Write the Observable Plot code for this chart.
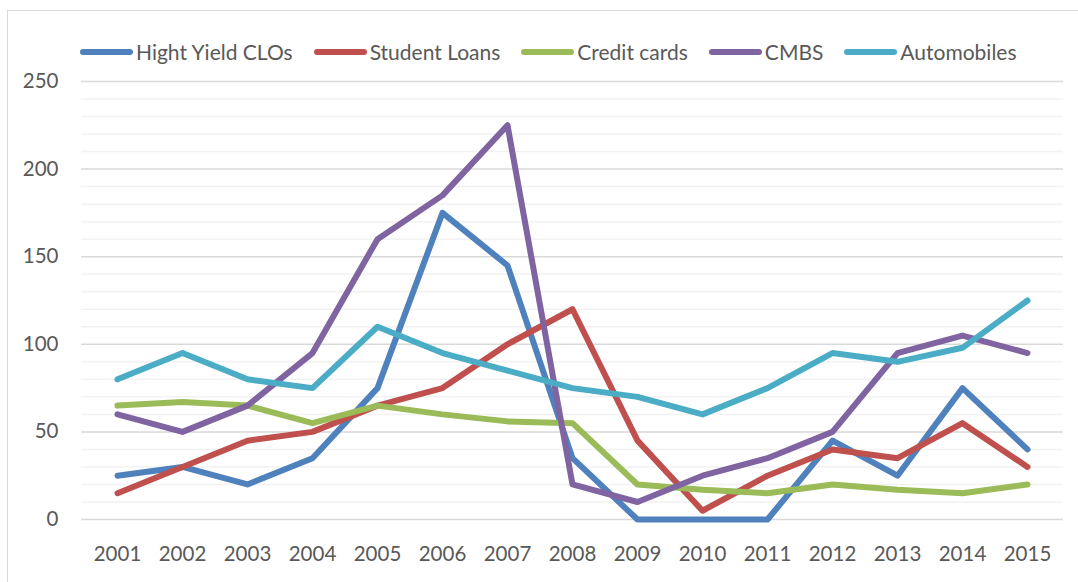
<!DOCTYPE html>
<html><head><meta charset="utf-8">
<script src="https://cdn.jsdelivr.net/npm/d3@7"></script>
<script src="https://cdn.jsdelivr.net/npm/@observablehq/plot@0.6"></script>
<style>
body{margin:0;background:#fff;font-family:Lato, "Liberation Sans", sans-serif;}
#wrap{position:relative;width:1078px;height:582px;overflow:hidden;background:#fff;}
#frame{position:absolute;left:7px;top:10px;width:1200px;height:700px;border:1.5px solid #d9d9d9;box-sizing:border-box;}
#legend{position:absolute;top:39px;left:80px;display:flex;align-items:center;font-size:21px;color:#595959;white-space:nowrap;}
.item{display:flex;align-items:center;margin-right:21px;}
.sw{width:53px;height:6px;border-radius:3px;margin-right:3px;}
#chart{position:absolute;left:0;top:0;}
</style></head>
<body>
<div id="wrap"><div id="frame"></div><div id="chart"></div><div id="legend"></div></div>
<script>
const years = ["2001","2002","2003","2004","2005","2006","2007","2008","2009","2010","2011","2012","2013","2014","2015"];
const seriesNames = ["Hight Yield CLOs","Student Loans","Credit cards","CMBS","Automobiles"];
const seriesColors = ["#4F81BD","#C0504D","#9BBB59","#8064A2","#4BACC6"];
const highYieldCLOs = [25,30,20,35,75,175,145,35,0,0,0,45,25,75,40];
const studentLoans  = [15,30,45,50,65,75,100,120,45,5,25,40,35,55,30];
const creditCards   = [65,67,65,55,65,60,56,55,20,17,15,20,17,15,20];
const cmbs          = [60,50,65,95,160,185,225,20,10,25,35,50,95,105,95];
const automobiles   = [80,95,80,75,110,95,85,75,70,60,75,95,90,98,125];
const yTicks = [0,50,100,150,200,250];
const minorTicks = d3.range(0,251,10).filter(v => v % 50 !== 0);

const allSeries = [highYieldCLOs, studentLoans, creditCards, cmbs, automobiles];
const rows = [];
allSeries.forEach((vals, i) => vals.forEach((v, j) => rows.push({series: seriesNames[i], year: years[j], value: v})));

const chart = Plot.plot({
  width: 1078, height: 582,
  marginLeft: 81, marginRight: 15, marginTop: 81, marginBottom: 63,
  style: {fontFamily: "Lato, 'Liberation Sans', sans-serif", fontSize: "20.5px", color: "#595959", background: "transparent"},
  x: {type: "point", domain: years, padding: 0.5},
  y: {domain: [0, 250]},
  color: {domain: seriesNames, range: seriesColors},
  marks: [
    Plot.ruleY(minorTicks, {stroke: "#f2f2f2", strokeWidth: 1.5}),
    Plot.ruleY(yTicks, {stroke: "#d9d9d9", strokeWidth: 1.5}),
    Plot.axisY({ticks: yTicks, tickSize: 0, tickPadding: 23, label: null}),
    Plot.axisX({tickSize: 0, tickPadding: 27, label: null}),
    Plot.line(rows, {x: "year", y: "value", z: "series", stroke: "series", strokeWidth: 6, strokeLinecap: "round", strokeLinejoin: "round"})
  ]
});
document.getElementById("chart").appendChild(chart);

const legend = document.getElementById("legend");
seriesNames.forEach((n, i) => {
  const it = document.createElement("div"); it.className = "item";
  const sw = document.createElement("div"); sw.className = "sw"; sw.style.background = seriesColors[i];
  const tx = document.createElement("span"); tx.textContent = n;
  it.appendChild(sw); it.appendChild(tx); legend.appendChild(it);
});
</script>
</body></html>
